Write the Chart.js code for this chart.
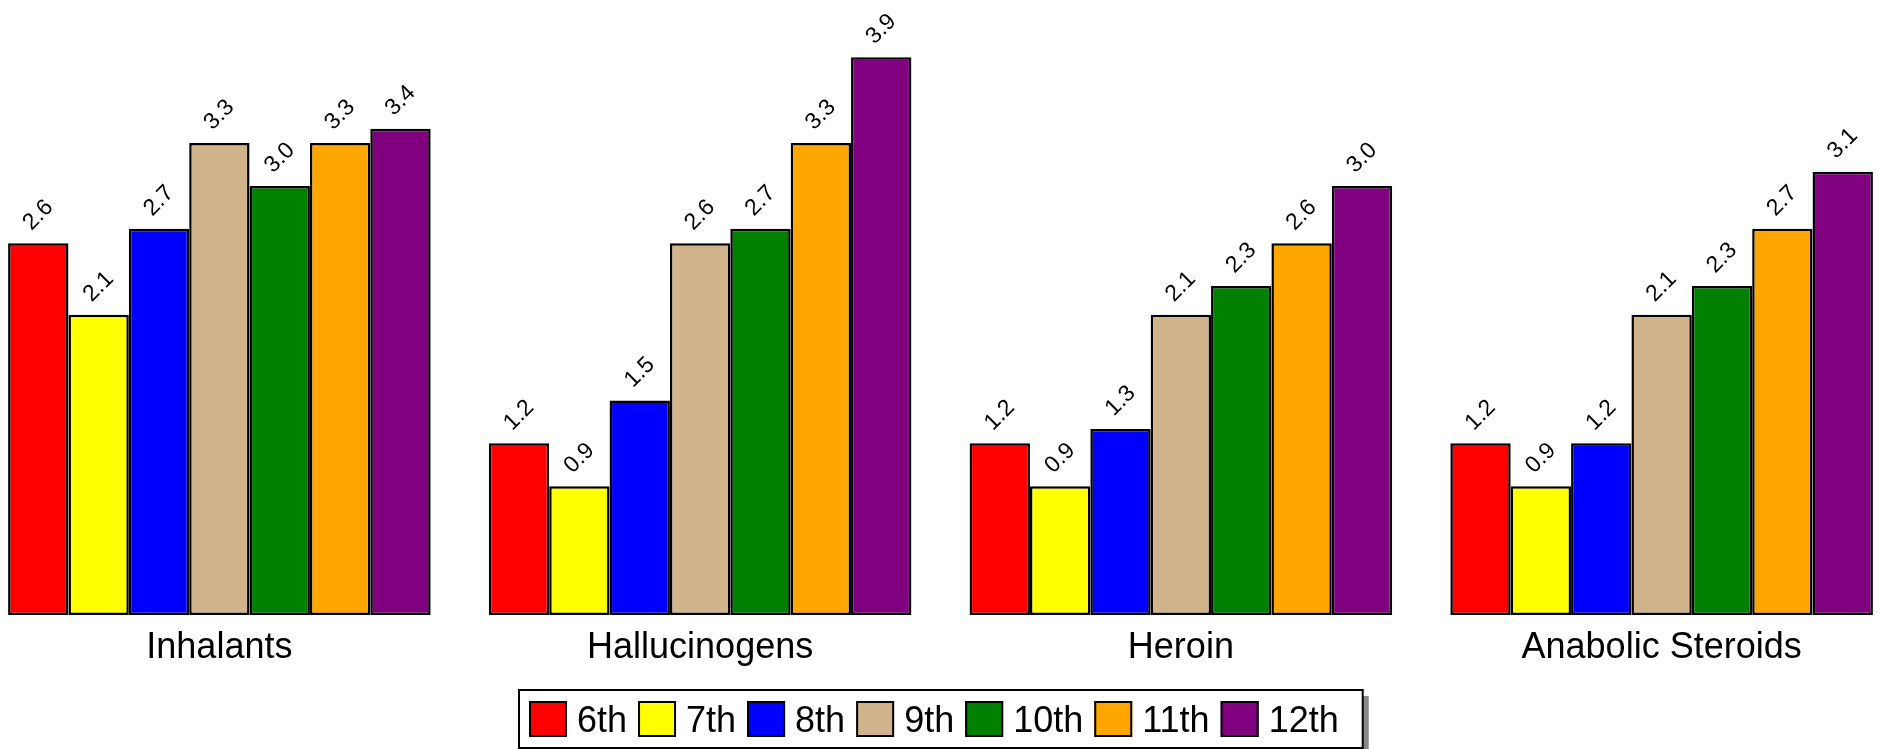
<!DOCTYPE html>
<html>
<head>
<meta charset="utf-8">
<script src="https://cdn.jsdelivr.net/npm/chart.js@4/dist/chart.umd.min.js"></script>
<style>
  body { margin: 0; background: #fff; overflow: hidden; }
  /* plot area runs a little past both window edges, like the original */
  canvas { display: block; margin-left: -21px; }
</style>
</head>
<body>
<canvas id="myChart" width="1923" height="749"></canvas>
<script>
var ctx = document.getElementById('myChart').getContext('2d');

const categories = ['Inhalants', 'Hallucinogens', 'Heroin', 'Anabolic Steroids'];
const grades = ['6th', '7th', '8th', '9th', '10th', '11th', '12th'];
const gradeColors = ['#FF0000', '#FFFF00', '#0000FF', '#D2B48C', '#008000', '#FFA500', '#800080'];

// one array per grade, values in category order
const sixth = [2.6, 1.2, 1.2, 1.2];
const seventh = [2.1, 0.9, 0.9, 0.9];
const eighth = [2.7, 1.5, 1.3, 1.2];
const ninth = [3.3, 2.6, 2.1, 2.1];
const tenth = [3.0, 2.7, 2.3, 2.3];
const eleventh = [3.3, 3.3, 2.6, 2.7];
const twelfth = [3.4, 3.9, 3.0, 3.1];

const gradeValues = [sixth, seventh, eighth, ninth, tenth, eleventh, twelfth];
const fontFamily = '"Liberation Sans", Arial, sans-serif';

// rotated value labels above every bar
const barLabels = {
    id: 'barLabels',
    afterDatasetsDraw(chart) {
        let c = chart.ctx;
        c.save();
        c.font = '23px ' + fontFamily;
        c.fillStyle = '#000';
        c.textAlign = 'center';
        c.textBaseline = 'middle';
        chart.data.datasets.forEach((ds, i) => {
            chart.getDatasetMeta(i).data.forEach((bar, j) => {
                c.save();
                c.translate(bar.x, bar.y - 28);
                c.rotate(-Math.PI / 4);
                c.fillText(ds.data[j].toFixed(1), 0, 0);
                c.restore();
            });
        });
        c.restore();
    }
};

// boxed legend with a drop shadow, centered under the chart
const boxLegend = {
    id: 'boxLegend',
    afterDraw(chart) {
        let c = chart.ctx;
        let sw = 38, sh = 36, gapText = 10, gapItem = 11, padL = 10, padR = 24;
        let top = 690, bottom = 748;
        c.save();
        c.font = '36px ' + fontFamily;
        let widths = chart.data.datasets.map(ds => c.measureText(ds.label).width);
        let total = padL + padR + gapItem * (widths.length - 1);
        widths.forEach(w => { total += sw + gapText + w; });
        let left = Math.round(chart.width / 2 - total / 2);

        c.fillStyle = '#888';
        c.fillRect(left + 6, top + 6, total, bottom - top);
        c.fillStyle = '#fff';
        c.fillRect(left, top, total, bottom - top);
        c.strokeStyle = '#000';
        c.lineWidth = 2;
        c.strokeRect(left, top, total, bottom - top);

        let x = left + padL;
        let y = 701;
        chart.data.datasets.forEach((ds, i) => {
            c.fillStyle = ds.backgroundColor;
            c.fillRect(x, y, sw, sh);
            c.strokeStyle = '#000';
            c.lineWidth = 2;
            c.strokeRect(x + 1, y + 1, sw - 2, sh - 2);
            x += sw + gapText;
            c.fillStyle = '#000';
            c.textBaseline = 'alphabetic';
            c.textAlign = 'left';
            c.fillText(ds.label, x, 732);
            x += widths[i] + gapItem;
        });
        c.restore();
    }
};

var chart = new Chart(ctx, {
    type: 'bar',
    data: {
        labels: categories,
        datasets: grades.map((g, i) => ({
            label: g,
            data: gradeValues[i],
            backgroundColor: gradeColors[i],
            borderColor: '#000',
            borderWidth: 2.5,
            borderSkipped: false,
            categoryPercentage: 0.879,
            barPercentage: 1
        }))
    },
    options: {
        responsive: false,
        animation: false,
        devicePixelRatio: 1,
        layout: { padding: { left: 0, right: 0, top: 0, bottom: 74 } },
        plugins: {
            legend: { display: false },
            tooltip: { enabled: false }
        },
        scales: {
            x: {
                grid: { display: false },
                border: { display: false },
                ticks: {
                    color: '#000',
                    padding: 3,
                    font: { size: 36, family: fontFamily }
                },
                afterFit(scale) { scale.height = 60; }
            },
            y: {
                display: false,
                min: 0,
                max: 4.3
            }
        }
    },
    plugins: [barLabels, boxLegend]
});
</script>
</body>
</html>
